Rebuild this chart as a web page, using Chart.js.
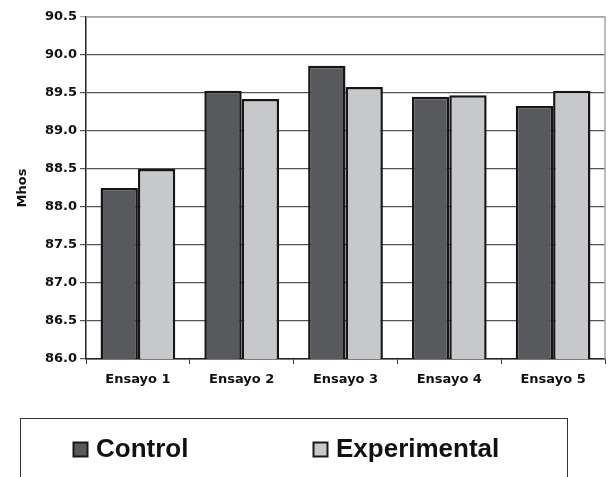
<!DOCTYPE html>
<html>
<head>
<meta charset="utf-8">
<script src="https://cdn.jsdelivr.net/npm/chart.js@4"></script>
<style>
  html, body { margin: 0; padding: 0; background: #ffffff; }
  #wrap { width: 610px; height: 477px; }
</style>
</head>
<body>
<div id="wrap"><canvas id="chart" width="610" height="477"></canvas></div>
<script>
var categories = ['Ensayo 1', 'Ensayo 2', 'Ensayo 3', 'Ensayo 4', 'Ensayo 5'];
var controlValues = [88.25, 89.53, 89.86, 89.45, 89.33];
var experimentalValues = [88.50, 89.42, 89.58, 89.47, 89.53];
var seriesNames = ['Control', 'Experimental'];
var yTicks = [86.0, 86.5, 87.0, 87.5, 88.0, 88.5, 89.0, 89.5, 90.0, 90.5];

var axisFont = { family: "'DejaVu Sans', sans-serif", size: 13, weight: 'bold' };

// marco gris arriba y a la derecha del area del grafico
const frameLines = {
    id: 'frameLines',
    beforeDatasetsDraw(chart) {
        const a = chart.chartArea;
        const ctx = chart.ctx;
        ctx.save();
        ctx.strokeStyle = '#a6a6a6';
        ctx.lineWidth = 1.5;
        ctx.beginPath();
        ctx.moveTo(a.left, a.top);
        ctx.lineTo(a.right, a.top);
        ctx.lineTo(a.right, a.bottom);
        ctx.stroke();
        ctx.restore();
    }
};

// leyenda con recuadro, abajo
const boxLegend = {
    id: 'boxLegend',
    afterDraw(chart) {
        const ctx = chart.ctx;
        ctx.save();
        ctx.strokeStyle = '#333333';
        ctx.lineWidth = 1;
        ctx.strokeRect(20.5, 418.5, 547, 70);
        const xs = [73, 313];
        ctx.font = "bold 26px 'Liberation Sans', Arial, sans-serif";
        ctx.textBaseline = 'alphabetic';
        chart.data.datasets.forEach((ds, i) => {
            ctx.fillStyle = ds.backgroundColor;
            ctx.fillRect(xs[i], 442, 14, 14);
            ctx.strokeStyle = '#1a1a1a';
            ctx.lineWidth = 2;
            ctx.strokeRect(xs[i] + 0.5, 442.5, 14, 14);
            ctx.fillStyle = '#111111';
            ctx.fillText(ds.label, xs[i] + 23, 457);
        });
        ctx.restore();
    }
};

const data = {
    labels: categories,
    datasets: [{
        label: seriesNames[0],
        data: controlValues,
        backgroundColor: '#58595d',
        borderColor: '#161616',
        borderWidth: 2.5,
        borderSkipped: 'bottom'
    }, {
        label: seriesNames[1],
        data: experimentalValues,
        backgroundColor: '#c7c8cb',
        borderColor: '#161616',
        borderWidth: 2.5,
        borderSkipped: 'bottom'
    }]
};

const options = {
    responsive: false,
    animation: false,
    layout: { padding: { top: 17, right: 5, bottom: 0, left: 0 } },
    datasets: {
        bar: { categoryPercentage: 0.72, barPercentage: 1.0 }
    },
    plugins: {
        legend: { display: false },
        tooltip: { enabled: false }
    },
    scales: {
        x: {
            grid: {
                drawOnChartArea: false,
                drawTicks: true,
                tickLength: 5,
                color: '#333333',
                offset: true
            },
            border: { color: '#222222', width: 1.5 },
            ticks: { font: axisFont, color: '#111111', padding: 8 },
            afterFit(scale) { scale.height = 118; }
        },
        y: {
            min: 86,
            max: 90.5,
            afterBuildTicks(scale) { scale.ticks = yTicks.map(v => ({ value: v })); },
            grid: {
                color: (c) => c.tick && c.tick.value === 90.5 ? '#a6a6a6' : '#555555',
                lineWidth: 1.2,
                tickLength: 6
            },
            border: { color: '#222222', width: 1.5 },
            ticks: {
                font: axisFont,
                color: '#111111',
                padding: 3,
                callback: (v) => Number(v).toFixed(1)
            },
            title: {
                display: true,
                text: 'Mhos',
                font: axisFont,
                color: '#111111',
                padding: { top: 15, bottom: 0 }
            },
            afterFit(scale) { scale.width = 86; }
        }
    }
};

new Chart('chart', { type: 'bar', data, options, plugins: [frameLines, boxLegend] });
</script>
</body>
</html>
